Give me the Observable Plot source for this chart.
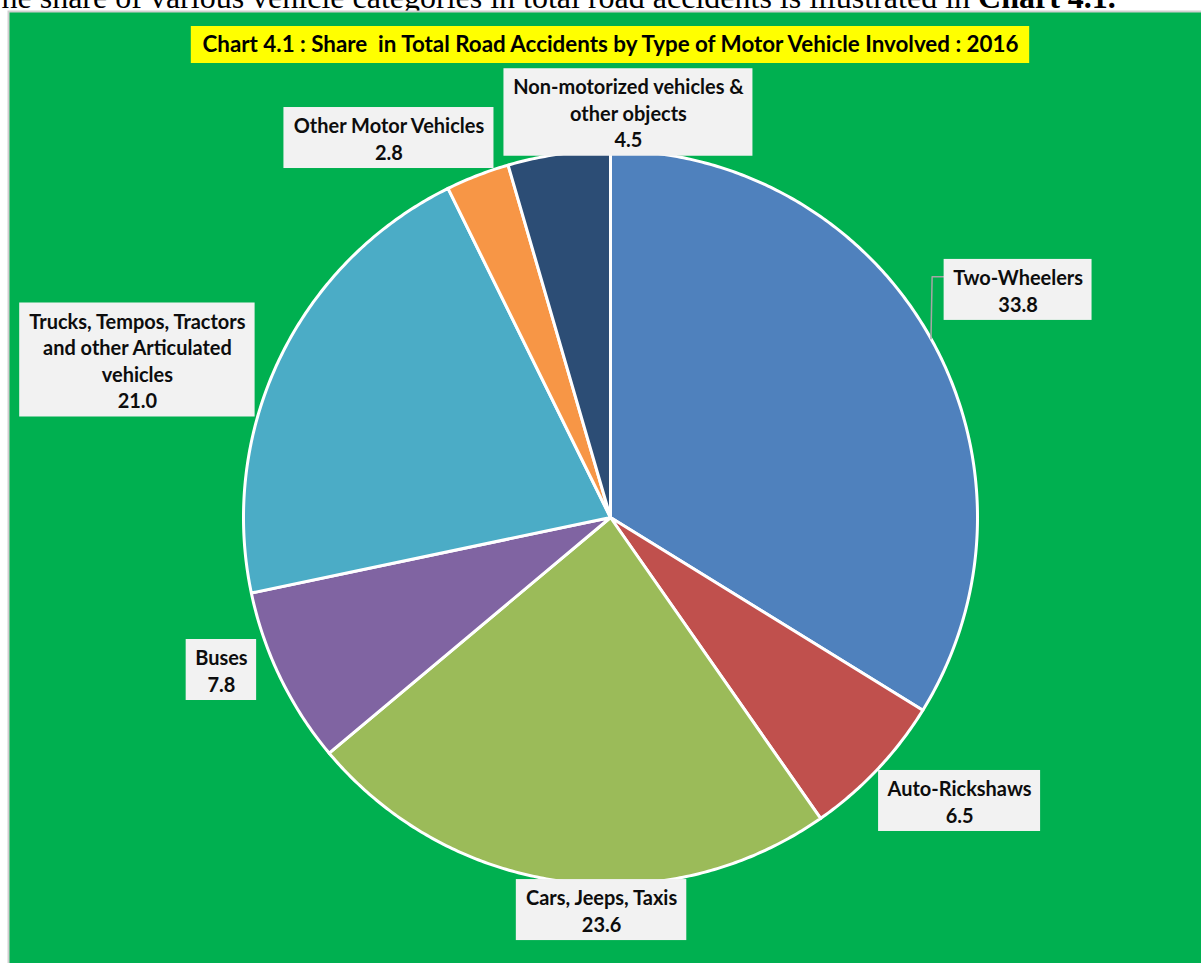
<!DOCTYPE html>
<html><head><meta charset="utf-8">
<script src="https://cdn.jsdelivr.net/npm/d3@7"></script>
<script src="https://cdn.jsdelivr.net/npm/@observablehq/plot@0.6"></script>
<style>body{margin:0;background:#fff;overflow:hidden}</style>
</head><body><div id="chart"></div>
<script>
// ---- data ----
const categories = ["Two-Wheelers","Auto-Rickshaws","Cars, Jeeps, Taxis","Buses","Trucks, Tempos, Tractors and other Articulated vehicles","Other Motor Vehicles","Non-motorized vehicles & other objects"];
const shares = [33.8, 6.5, 23.6, 7.8, 21.0, 2.8, 4.5];
const labelLines = [["Two-Wheelers"],["Auto-Rickshaws"],["Cars, Jeeps, Taxis"],["Buses"],["Trucks, Tempos, Tractors","and other Articulated","vehicles"],["Other Motor Vehicles"],["Non-motorized vehicles &","other objects"]];
const titleText = "Chart 4.1 : Share  in Total Road Accidents by Type of Motor Vehicle Involved : 2016";
const introText = "The share of various vehicle categories in total road accidents is illustrated in ";
const introBold = "Chart 4.1.";

// ---- styles / layout ----
const colors = ["#4F81BD","#C0504D","#9BBB59","#8064A2","#4BACC6","#F79646","#2C4D75"];
const W = 1201, H = 963;
const cx = 610, cy = 517, R = 367;
const labelNudge = [[23,-13],[29,-19],[49,-44],[7,-40],[-77,35],[-62,31],[80,31]];
const leaderFor = ["Two-Wheelers"];

const ctx = document.createElement("canvas").getContext("2d");
function measure(t, font){ ctx.font = font; return ctx.measureText(t).width; }

const LF = "Lato";
const labelSize = 18 * 130 / measure("Two-Wheelers", `bold 18px ${LF}`);
const lineH = 26.5, padX = 9, padY = 4;
const titleSize = 20 * 821 / measure(titleText, `bold 20px ${LF}`);
const introVisible = introText.slice(1);
const introSize = 26 * 1115 / (measure(introVisible, "26px 'Liberation Serif'") + measure(introBold, "bold 26px 'Liberation Serif'"));
const tW = measure("T", `${introSize}px 'Liberation Serif'`);
const introW = measure(introText, `${introSize}px 'Liberation Serif'`);

const data = categories.map((name, i) => ({name, share: shares[i], lines: labelLines[i]}));
const arcs = d3.pie().sort(null).value(d => d.share)(data);

const slicePts = arcs.flatMap(a => {
  const name = a.data.name;
  const pts = [{name, x: cx, y: cy}];
  const n = Math.max(4, Math.ceil((a.endAngle - a.startAngle) / (Math.PI / 360)));
  for (let k = 0; k <= n; k++) {
    const t = a.startAngle + (a.endAngle - a.startAngle) * k / n;
    pts.push({name, x: cx + R * Math.sin(t), y: cy - R * Math.cos(t)});
  }
  return pts;
});

const boxes = arcs.map((a, i) => {
  const mid = (a.startAngle + a.endAngle) / 2;
  const lines = [...a.data.lines, a.data.share.toFixed(1)];
  const bx = cx + 1.2 * R * Math.sin(mid) + labelNudge[i][0];
  const by = cy - 1.2 * R * Math.cos(mid) + labelNudge[i][1];
  const w = d3.max(lines, l => measure(l, `bold ${labelSize}px ${LF}`)) + 2 * padX;
  const h = lines.length * lineH + 2 * padY;
  return {name: a.data.name, text: lines.join("\n"), x: bx, y: by, x1: bx - w/2, x2: bx + w/2, y1: by - h/2, y2: by + h/2, mid, n: lines.length};
});

const leaders = boxes.filter(b => leaderFor.includes(b.name)).flatMap(b => {
  const ly = b.y1 + padY + lineH / 2;
  return [
    {name: b.name, x: cx + R * Math.sin(b.mid), y: cy - R * Math.cos(b.mid)},
    {name: b.name, x: b.x1 - 12, y: ly},
    {name: b.name, x: b.x1, y: ly}
  ];
});

const titleW = measure(titleText, `bold ${titleSize}px ${LF}`) + 18;
const titleBox = [{x1: cx - titleW/2, x2: cx + titleW/2, y1: 26, y2: 63, x: cx, y: 44.5, text: titleText}];

const chart = Plot.plot({
  width: W, height: H,
  margin: 0,
  x: {domain: [0, W], range: [0, W], axis: null},
  y: {domain: [0, H], range: [0, H], axis: null},
  color: {domain: categories, range: colors},
  style: {background: "#fff", overflow: "hidden"},
  marks: [
    Plot.text([introText], {x: () => -tW + 1, y: () => 7, text: d => d, textAnchor: "start", lineAnchor: "bottom", fontFamily: "Liberation Serif", fontSize: introSize, fill: "#000"}),
    Plot.text([introBold], {x: () => -tW + 1 + introW, y: () => 7, text: d => d, textAnchor: "start", lineAnchor: "bottom", fontFamily: "Liberation Serif", fontWeight: "bold", fontSize: introSize, fill: "#000"}),
    Plot.frame({fill: "#00B050", stroke: "#D0D0D0", strokeWidth: 2, insetLeft: 8, insetTop: 11, insetRight: -10, insetBottom: -10}),
    Plot.rect(titleBox, {x1: "x1", x2: "x2", y1: "y1", y2: "y2", fill: "#FFFF00"}),
    Plot.text(titleBox, {x: "x", y: "y", text: "text", fontFamily: LF, fontWeight: "bold", fontSize: titleSize, fill: "#000"}),
    Plot.line(slicePts, {x: "x", y: "y", z: "name", fill: "name", stroke: "white", strokeWidth: 3, strokeLinejoin: "round", curve: "linear-closed"}),
    Plot.line(leaders, {x: "x", y: "y", z: "name", stroke: "#A6A6A6", strokeWidth: 1.5}),
    Plot.rect(boxes, {x1: "x1", x2: "x2", y1: "y1", y2: "y2", fill: "#F2F2F2"}),
    Plot.text(boxes, {x: "x", y: "y", text: "text", lineHeight: lineH / labelSize, fontFamily: LF, fontWeight: "bold", fontSize: labelSize, fill: "#0D0D0D"})
  ]
});
document.getElementById("chart").appendChild(chart);
</script>
</body></html>
